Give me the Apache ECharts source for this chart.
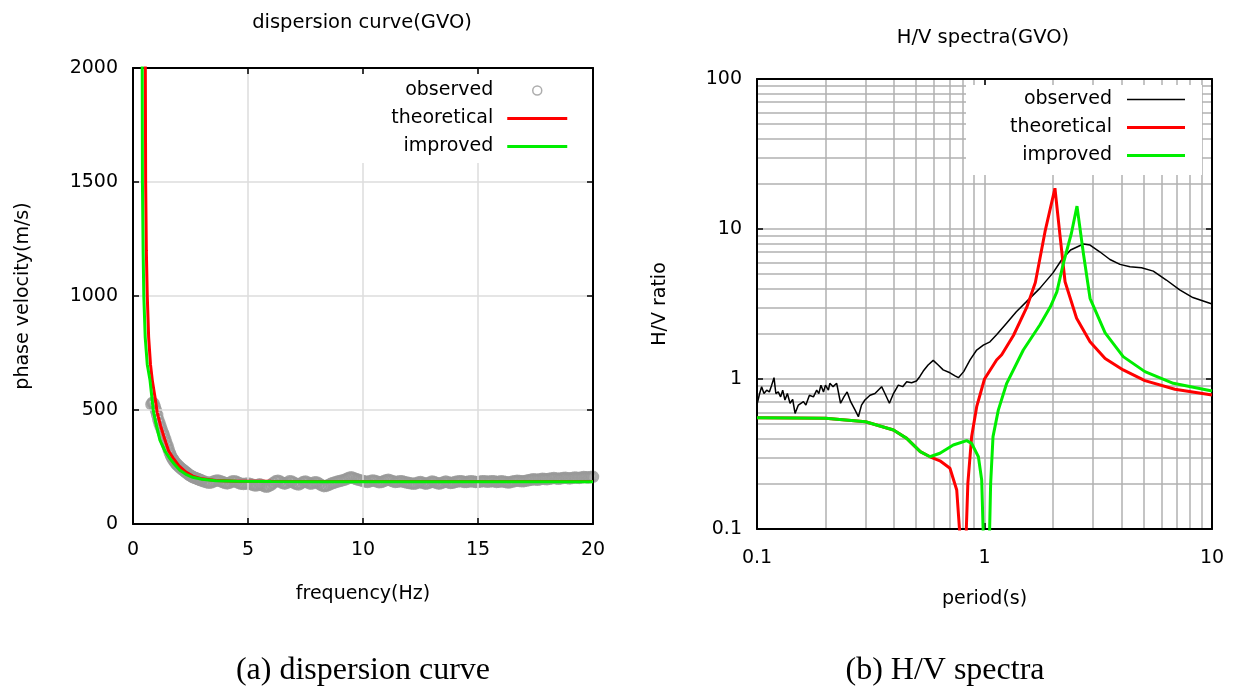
<!DOCTYPE html>
<html><head><meta charset="utf-8">
<script src="https://cdn.jsdelivr.net/npm/echarts@6/dist/echarts.min.js"></script>
<style>html,body{margin:0;padding:0;background:#fff}#c{width:1235px;height:688px}</style>
</head><body><div id="c"></div>
<script>
// ---------- (a) dispersion curve ----------
const obsFreq = [0.80,0.85,0.90,0.95,1.00,1.05,1.10,1.15,1.20,1.25,1.30,1.35,1.40,1.45,1.50,1.55,1.60,1.65,1.70,1.75,1.80,1.85,1.90,1.95,2.00,2.05,2.10,2.15,2.20,2.25,2.30,2.35,2.40,2.45,2.50,2.55,2.60,2.65,2.70,2.75,2.80,2.85,2.90,2.95,
 3.0,3.1,3.2,3.3,3.4,3.5,3.6,3.7,3.8,3.9,
 4.0,4.1,4.2,4.3,4.4,4.5,4.6,4.7,4.8,4.9,
 5.0,5.1,5.2,5.3,5.4,5.5,5.6,5.7,5.8,5.9,
 6.0,6.1,6.2,6.3,6.4,6.5,6.6,6.7,6.8,6.9,
 7.0,7.1,7.2,7.3,7.4,7.5,7.6,7.7,7.8,7.9,
 8.0,8.1,8.2,8.3,8.4,8.5,8.6,8.7,8.8,8.9,
 9.0,9.1,9.2,9.3,9.4,9.5,9.6,9.7,9.8,9.9,
 10.0,10.1,10.2,10.3,10.4,10.5,10.6,10.7,10.8,10.9,
 11.0,11.1,11.2,11.3,11.4,11.5,11.6,11.7,11.8,11.9,
 12.0,12.1,12.2,12.3,12.4,12.5,12.6,12.7,12.8,12.9,
 13.0,13.1,13.2,13.3,13.4,13.5,13.6,13.7,13.8,13.9,
 14.0,14.1,14.2,14.3,14.4,14.5,14.6,14.7,14.8,14.9,
 15.0,15.1,15.2,15.3,15.4,15.5,15.6,15.7,15.8,15.9,
 16.0,16.1,16.2,16.3,16.4,16.5,16.6,16.7,16.8,16.9,
 17.0,17.1,17.2,17.3,17.4,17.5,17.6,17.7,17.8,17.9,
 18.0,18.1,18.2,18.3,18.4,18.5,18.6,18.7,18.8,18.9,
 19.0,19.1,19.2,19.3,19.4,19.5,19.6,19.7,19.8,19.9,20.0];
const obsVel = [525,532,528,515,498,478,458,442,428,414,400,387,372,357,342,327,312,300,290,282,275,268,262,257,252,247,243,239,235,231,227,223,219,215,212,209,206,204,202,200,198,196,194,192,
 190,186,183,181,182,186,190,191,188,184,
 180,178,181,186,188,185,180,176,175,177,
 178,175,172,169,170,174,171,166,163,166,
 172,180,187,190,186,180,177,181,187,186,
 181,175,173,178,184,186,182,177,178,183,
 182,176,170,166,167,171,176,180,183,186,
 189,191,194,198,203,205,201,197,194,191,
 189,186,184,187,191,190,186,183,184,188,
 192,194,191,187,184,185,188,187,184,182,
 180,178,176,178,182,184,181,177,178,182,
 186,184,180,177,179,183,186,183,180,181,
 184,186,188,187,184,184,186,188,186,184,
 184,186,188,187,185,186,188,187,184,185,
 187,186,184,182,183,186,188,190,189,187,
 188,190,192,194,196,195,194,196,198,197,
 196,198,200,202,200,198,200,202,203,201,
 200,202,204,203,202,204,206,205,204,206,207];
const thFreq = [0.52,0.55,0.58,0.62,0.68,0.76,0.84,0.95,1.05,1.20,1.39,1.55,1.74,2.0,2.3,2.6,3.0,3.6,4.5,6,8,10,12,14,16,18,20];
const thVel  = [2600,1500,1200,1000,820,700,630,560,490,430,368,320,290,255,228,210,198,191,188,187,186,186,186,186,186,186,186];
const impFreq = [0.39,0.41,0.44,0.47,0.53,0.62,0.74,0.88,1.0,1.17,1.4,1.6,1.8,2.04,2.3,2.6,3.0,3.6,4.5,6,8,10,12,14,16,18,20];
const impVel  = [2600,1500,1200,1000,820,700,630,500,440,368,318,288,262,236,218,205,196,190,187,186,185,185,185,185,185,185,185];
const freqTicks = [0, 20, 5];      // min, max, step
const velTicks  = [0, 2000, 500];

// ---------- (b) H/V spectra ----------
const hvObsT = [0.1003,0.1027,0.1048,0.1073,0.1103,0.1133,0.116,0.1188,0.121,0.124,0.127,0.1297,0.1327,0.136,0.1397,0.1435,0.147,0.152,0.16,0.164,0.17,0.177,0.183,0.187,0.191,0.196,0.200,0.206,0.209,0.216,0.224,0.233,0.241,0.249,0.258,0.270,0.279,0.288,0.298,0.314,0.330,0.341,0.353,0.365,0.382,0.398,0.418,0.437,0.455,0.478,0.502,0.520,0.538,0.565,0.595,0.626,0.658,0.705,0.742,0.768,0.810,0.864,0.924,0.988,1.057,1.13,1.25,1.38,1.53,1.75,2.0,2.18,2.39,2.72,2.91,3.21,3.56,3.94,4.36,4.9,5.52,6.3,7.21,8.24,10];
const hvObsH = [0.689,0.80,0.889,0.80,0.842,0.82,0.91,1.02,0.80,0.82,0.76,0.842,0.724,0.80,0.689,0.73,0.59,0.67,0.706,0.67,0.78,0.76,0.842,0.80,0.91,0.82,0.91,0.842,0.936,0.889,0.936,0.689,0.76,0.82,0.706,0.62,0.56,0.67,0.724,0.78,0.80,0.842,0.889,0.80,0.689,0.80,0.91,0.889,0.96,0.945,0.97,1.04,1.13,1.24,1.33,1.24,1.15,1.10,1.05,1.02,1.12,1.34,1.56,1.68,1.77,1.97,2.35,2.81,3.28,4.02,5.1,6.21,7.24,7.94,7.82,7.05,6.26,5.81,5.6,5.52,5.24,4.57,3.93,3.49,3.16];
const hvThT = [0.1,0.2,0.3,0.398,0.455,0.522,0.576,0.637,0.705,0.755,0.78,0.805,0.83,0.845,0.878,0.924,1.0,1.13,1.19,1.34,1.533,1.673,1.845,2.04,2.15,2.26,2.54,2.91,3.39,4.07,5.07,6.87,10];
const hvThH = [0.552,0.548,0.519,0.457,0.402,0.328,0.303,0.285,0.254,0.182,0.09,0.03,0.09,0.2015,0.413,0.654,1.0,1.34,1.45,1.95,3.0,4.4,9.6,18.7,8.9,4.45,2.54,1.77,1.37,1.15,0.975,0.854,0.782];
const hvImpT = [0.1,0.2,0.3,0.398,0.455,0.522,0.576,0.637,0.729,0.835,0.878,0.94,0.972,0.99,1.02,1.05,1.064,1.09,1.15,1.252,1.481,1.754,1.95,2.08,2.22,2.41,2.55,2.72,2.91,3.39,4.07,5.07,6.76,10];
const hvImpH = [0.552,0.548,0.519,0.457,0.402,0.328,0.303,0.32,0.363,0.388,0.372,0.303,0.212,0.08,0.03,0.08,0.2,0.413,0.62,0.936,1.56,2.3,3.04,3.81,5.88,9.37,14.2,6.89,3.45,2.03,1.41,1.12,0.936,0.832];
const periodGrid = [0.2,0.3,0.4,0.5,0.6,0.7,0.8,0.9,1,2,3,4,5,6,7,8,9];
const ratioGrid  = [0.2,0.3,0.4,0.5,0.6,0.7,0.8,0.9,1,2,3,4,5,6,7,8,9,10,20,30,40,50,60,70,80,90];

const seriesNames = ['observed','theoretical','improved'];
const hvSuffix = ' (H/V)';
const RED = '#ff0000', GREEN = '#00ee00', GREY = '#999999';

const zip = (a, b) => a.map((v, i) => [v, b[i]]);
const SANS = 'DejaVu Sans';
const TS = {fontFamily: SANS, fontSize: 19, color: '#000'};
// legend icon: a horizontal bar of thickness h inside a w x 14 box
const barIcon = (w, h) => `path://M0,0M${w},0M0,14M${w},14M0,${7 - h / 2}L${w},${7 - h / 2}L${w},${7 + h / 2}L0,${7 + h / 2}Z`;

function frameAxis(extra) {
  return Object.assign({
    axisLine: {show: true, onZero: false, lineStyle: {color: '#000', width: 2}},
    axisTick: {show: true, inside: true, length: 6, lineStyle: {color: '#000', width: 1.5}},
    axisLabel: {show: false},
    splitLine: {show: false},
    z: 3
  }, extra);
}
function mainAxis(extra, labelMargin) {
  return Object.assign({
    axisLine: {show: true, onZero: false, lineStyle: {color: '#000', width: 2}},
    axisTick: {show: true, inside: true, length: 6, lineStyle: {color: '#000', width: 1.5}},
    axisLabel: Object.assign({margin: labelMargin, hideOverlap: false, formatter: v => String(v)}, TS),
    nameLocation: 'middle',
    nameTextStyle: Object.assign({}, TS),
    z: 3
  }, extra);
}
const linSplit = {show: true, showMinLine: false, showMaxLine: false, lineStyle: {color: '#dcdcdc', width: 1.5}};

const chart = echarts.init(document.getElementById('c'), null, {renderer: 'canvas'});
const option = {
  animation: false,
  backgroundColor: '#fff',
  grid: [
    {left: 133, top: 68, width: 460, height: 456, outerBoundsMode: 'none', containLabel: false},
    {left: 757, top: 79, width: 455, height: 450, outerBoundsMode: 'none', containLabel: false}
  ],
  xAxis: [
    mainAxis({gridIndex: 0, type: 'value', position: 'bottom', min: freqTicks[0], max: freqTicks[1], interval: freqTicks[2],
      splitLine: linSplit, name: 'frequency(Hz)', nameGap: 61}, 17),
    frameAxis({gridIndex: 0, type: 'value', position: 'top', min: freqTicks[0], max: freqTicks[1], interval: freqTicks[2]}),
    mainAxis({gridIndex: 1, type: 'log', logBase: 10, position: 'bottom', min: 0.1, max: 10,
      splitLine: {show: false}, name: 'period(s)', nameGap: 61}, 20),
    frameAxis({gridIndex: 1, type: 'log', logBase: 10, position: 'top', min: 0.1, max: 10})
  ],
  yAxis: [
    mainAxis({gridIndex: 0, type: 'value', position: 'left', min: velTicks[0], max: velTicks[1], interval: velTicks[2],
      splitLine: linSplit, name: 'phase velocity(m/s)', nameGap: 100}, 15),
    frameAxis({gridIndex: 0, type: 'value', position: 'right', min: velTicks[0], max: velTicks[1], interval: velTicks[2]}),
    mainAxis({gridIndex: 1, type: 'log', logBase: 10, position: 'left', min: 0.1, max: 100,
      splitLine: {show: false}, name: 'H/V ratio', nameGap: 87}, 15),
    frameAxis({gridIndex: 1, type: 'log', logBase: 10, position: 'right', min: 0.1, max: 100})
  ],
  legend: [
    {
      z: 20, orient: 'vertical', align: 'right', right: 657, top: 74,
      padding: [7, 10, 7, 30], backgroundColor: '#fff', selectedMode: false,
      itemWidth: 60, itemHeight: 14, itemGap: 9,
      textStyle: Object.assign({padding: [0, 9, 0, 0]}, TS),
      data: [
        {name: seriesNames[0], icon: 'path://M0,0M60,0M60,14M0,14M25.5,7A4.5,4.5,0,1,1,34.5,7A4.5,4.5,0,1,1,25.5,7Z',
         itemStyle: {color: 'rgba(0,0,0,0)', borderColor: GREY, borderWidth: 1.5}},
        {name: seriesNames[1], icon: barIcon(60, 3), itemStyle: {color: RED, borderWidth: 0}},
        {name: seriesNames[2], icon: barIcon(60, 3), itemStyle: {color: GREEN, borderWidth: 0}}
      ]
    },
    {
      z: 20, orient: 'vertical', align: 'right', right: 33, top: 85,
      padding: [5, 17, 10, 44], backgroundColor: '#fff', selectedMode: false,
      itemWidth: 58, itemHeight: 14, itemGap: 9,
      textStyle: Object.assign({padding: [0, 10, 0, 0]}, TS),
      formatter: n => n.replace(hvSuffix, ''),
      data: [
        {name: seriesNames[0] + hvSuffix, icon: barIcon(58, 1.5), itemStyle: {color: '#000', borderWidth: 0}},
        {name: seriesNames[1] + hvSuffix, icon: barIcon(58, 3), itemStyle: {color: RED, borderWidth: 0}},
        {name: seriesNames[2] + hvSuffix, icon: barIcon(58, 3), itemStyle: {color: GREEN, borderWidth: 0}}
      ]
    }
  ],
  graphic: [
    {type: 'text', x: 362, y: 23, style: {text: 'dispersion curve(GVO)', font: '19.5px "DejaVu Sans"', fill: '#000', align: 'center', verticalAlign: 'middle'}},
    {type: 'text', x: 983, y: 38, style: {text: 'H/V spectra(GVO)', font: '19.5px "DejaVu Sans"', fill: '#000', align: 'center', verticalAlign: 'middle'}},
    {type: 'text', x: 363, y: 671, style: {text: '(a) dispersion curve', font: '32px "Liberation Serif"', fill: '#000', align: 'center', verticalAlign: 'middle'}},
    {type: 'text', x: 945, y: 671, style: {text: '(b) H/V spectra', font: '32px "Liberation Serif"', fill: '#000', align: 'center', verticalAlign: 'middle'}}
  ],
  series: [
    {name: seriesNames[0], type: 'scatter', xAxisIndex: 0, yAxisIndex: 0, data: zip(obsFreq, obsVel),
     symbol: 'circle', symbolSize: 10, itemStyle: {color: 'rgba(0,0,0,0)', borderColor: GREY, borderWidth: 2.5},
     silent: true, z: 2},
    {name: seriesNames[1], type: 'line', xAxisIndex: 0, yAxisIndex: 0, data: zip(thFreq, thVel),
     symbol: 'none', smooth: false, lineStyle: {color: RED, width: 3}, itemStyle: {color: RED}, z: 3},
    {name: seriesNames[2], type: 'line', xAxisIndex: 0, yAxisIndex: 0, data: zip(impFreq, impVel),
     symbol: 'none', lineStyle: {color: GREEN, width: 3}, itemStyle: {color: GREEN}, z: 4},
    {name: 'grid', type: 'line', xAxisIndex: 2, yAxisIndex: 2, data: [], silent: true, z: 1,
     markLine: {silent: true, symbol: 'none', animation: false, label: {show: false}, z: 1,
       lineStyle: {color: '#b0b0b0', width: 1.5, type: 'solid'},
       emphasis: {disabled: true},
       data: periodGrid.map(v => ({xAxis: v})).concat(ratioGrid.map(v => ({yAxis: v})))}},
    {name: seriesNames[0] + hvSuffix, type: 'line', xAxisIndex: 2, yAxisIndex: 2, data: zip(hvObsT, hvObsH),
     symbol: 'none', lineStyle: {color: '#000', width: 1.5}, itemStyle: {color: '#000'}, z: 3},
    {name: seriesNames[1] + hvSuffix, type: 'line', xAxisIndex: 2, yAxisIndex: 2, data: zip(hvThT, hvThH),
     symbol: 'none', lineStyle: {color: RED, width: 3}, itemStyle: {color: RED}, z: 3},
    {name: seriesNames[2] + hvSuffix, type: 'line', xAxisIndex: 2, yAxisIndex: 2, data: zip(hvImpT, hvImpH),
     symbol: 'none', lineStyle: {color: GREEN, width: 3}, itemStyle: {color: GREEN}, z: 4}
  ]
};
chart.setOption(option);
</script>
</body></html>
